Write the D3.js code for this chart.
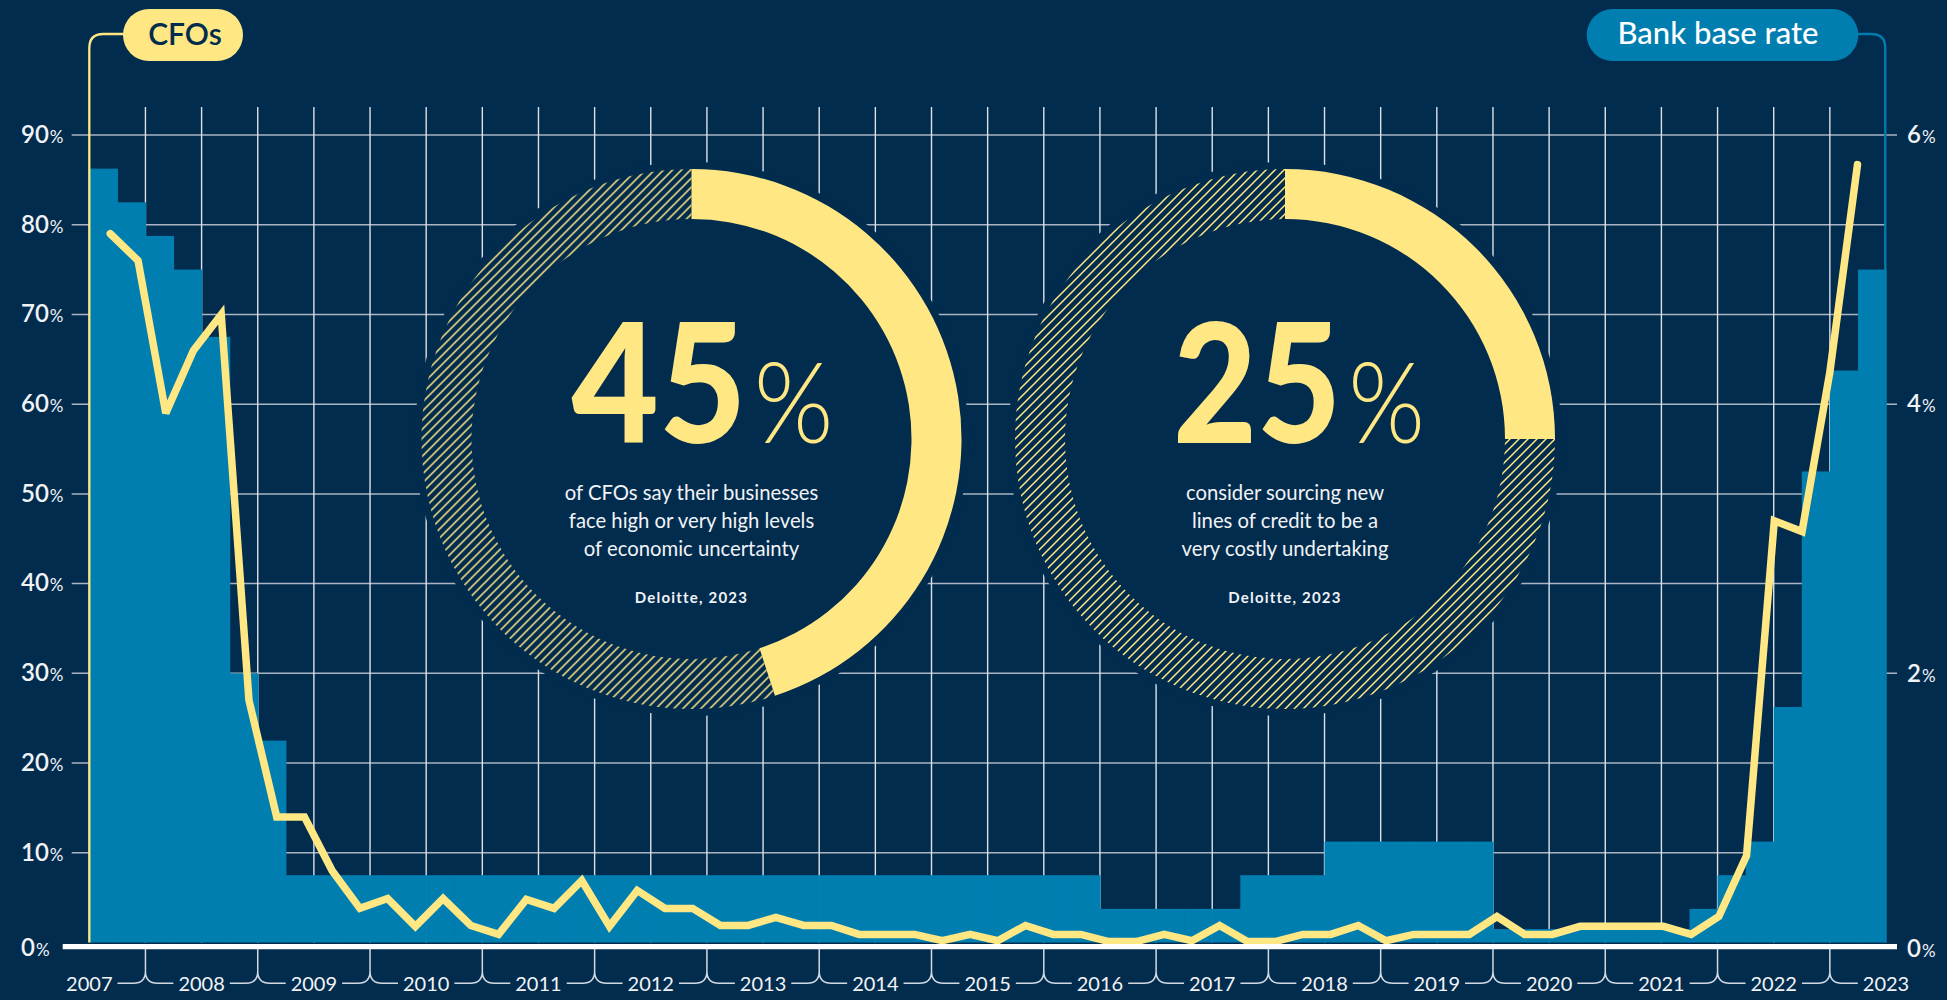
<!DOCTYPE html>
<html>
<head>
<meta charset="utf-8">
<script src="https://cdn.jsdelivr.net/npm/d3@7"></script>
<style>
  html, body { margin: 0; padding: 0; background: #022c4e; }
  svg { display: block; font-family: Lato, "Open Sans", sans-serif; }
</style>
</head>
<body>
<svg id="chart" width="1947" height="1000"></svg>
<script>
// ---- data -------------------------------------------------------------
const years = [2007, 2008, 2009, 2010, 2011, 2012, 2013, 2014, 2015,
               2016, 2017, 2018, 2019, 2020, 2021, 2022, 2023];
const quarterNames = ["Q1", "Q2", "Q3", "Q4"];
// quarterly periods from Q3 2007 to Q2 2023
const quarters = years.flatMap(y => quarterNames.map(q => `${y} ${q}`)).slice(2, 66);

// Bank of England base rate at each quarter (%), right axis
const bankRate = [
  5.75, 5.5, 5.25, 5.0, 4.5, 2.0, 1.5, 0.5,
  0.5, 0.5, 0.5, 0.5, 0.5, 0.5, 0.5, 0.5,
  0.5, 0.5, 0.5, 0.5, 0.5, 0.5, 0.5, 0.5,
  0.5, 0.5, 0.5, 0.5, 0.5, 0.5, 0.5, 0.5,
  0.5, 0.5, 0.5, 0.5, 0.25, 0.25, 0.25, 0.25,
  0.25, 0.5, 0.5, 0.5, 0.75, 0.75, 0.75, 0.75,
  0.75, 0.75, 0.1, 0.1, 0.1, 0.1, 0.1, 0.1,
  0.1, 0.25, 0.5, 0.75, 1.75, 3.5, 4.25, 5.0
];

// CFOs reporting high uncertainty (%), left axis
const cfoUncertainty = [
  79, 76, 59, 66, 70, 27, 14, 14,
  8, 3.8, 4.9, 1.8, 4.9, 1.9, 0.9, 4.8,
  3.8, 6.9, 1.8, 5.8, 3.8, 3.8, 1.9, 1.9,
  2.8, 1.9, 1.9, 0.9, 0.9, 0.9, 0.2, 0.9,
  0.2, 1.9, 0.9, 0.9, 0.1, 0.1, 0.9, 0.2,
  1.9, 0.1, 0.1, 0.9, 0.9, 1.9, 0.2, 0.9,
  0.9, 0.9, 2.9, 0.9, 0.9, 1.8, 1.8, 1.8,
  1.8, 0.9, 2.9, 9.7, 47, 45.8, 63.5, 86.7
];

const leftTicks = [0, 10, 20, 30, 40, 50, 60, 70, 80, 90];
const rightTicks = [0, 2, 4, 6];

const statValues = [45, 25];
const statLines = [
  ["of CFOs say their businesses", "face high or very high levels", "of economic uncertainty"],
  ["consider sourcing new", "lines of credit to be a", "very costly undertaking"]
];
const statSource = "Deloitte, 2023";
const seriesNames = ["CFOs", "Bank base rate"];

// ---- setup ------------------------------------------------------------
const W = 1947, H = 1000;
const C = {
  bg: "#022c4e", bar: "#007eb0", yellow: "#ffe784",
  hgrid: "#aab5c3", vgrid: "#dce1e8", text: "#f1f3f6", axis: "#d3d9e1"
};

const svg = d3.select("#chart");
svg.append("rect").attr("width", W).attr("height", H).attr("fill", C.bg);

const defs = svg.append("defs");
const hs = 9; // hatch repeat
const pat = defs.append("pattern")
  .attr("id", "hatch").attr("patternUnits", "userSpaceOnUse")
  .attr("width", hs).attr("height", hs);
pat.append("path")
  .attr("d", `M-1,1 L1,-1 M0,${hs} L${hs},0 M${hs - 1},${hs + 1} L${hs + 1},${hs - 1}`)
  .attr("stroke", C.yellow).attr("stroke-width", 1.5);

const x = d3.scaleBand().domain(quarters).range([89.3, 1886]).padding(0);
const xLine = d3.scalePoint().domain(quarters).range([110.3, 1857.5]);
const yL = d3.scaleLinear().domain([0, 90]).range([942.5, 135]);
const yR = d3.scaleLinear().domain([0, 6]).range([942.5, 135]);

const plotLeft = 71.7, plotRight = 1886, tickRight = 1897;

// ---- grid -------------------------------------------------------------
const grid = svg.append("g");
grid.selectAll("line.h")
  .data(leftTicks.filter(d => d > 0))
  .join("line")
  .attr("x1", plotLeft)
  .attr("x2", d => (d % 30 === 0 ? tickRight : plotRight))
  .attr("y1", d => yL(d)).attr("y2", d => yL(d))
  .attr("stroke", C.hgrid).attr("stroke-width", 1.5);

const halfYears = quarters.filter((q, i) => i > 0 && i % 2 === 0);
grid.selectAll("line.v")
  .data(halfYears)
  .join("line")
  .attr("x1", d => x(d)).attr("x2", d => x(d))
  .attr("y1", 107).attr("y2", yL(0))
  .attr("stroke", C.vgrid).attr("stroke-width", 1.4);

// ---- bank rate bars ---------------------------------------------------
svg.append("g").selectAll("rect")
  .data(quarters.map((q, i) => ({ q, v: bankRate[i] })))
  .join("rect")
  .attr("x", d => x(d.q))
  .attr("width", x.bandwidth() + 0.6)
  .attr("y", d => yR(d.v))
  .attr("height", d => yR(0) - yR(d.v))
  .attr("fill", C.bar);

// ---- stat rings -------------------------------------------------------
const ringCx = [691.5, 1285], ringCy = 439;
const rOuter = 270, rInner = 220;
const arc = d3.arc().innerRadius(rInner).outerRadius(rOuter);
// left offset and overall width of the big figure inside each ring
const figLeft = [-120, -112], figWidth = [262, 252];

statValues.forEach((v, k) => {
  const g = svg.append("g").attr("transform", `translate(${ringCx[k]},${ringCy})`);
  g.append("circle").attr("r", 277).attr("fill", C.bg);
  const end = 2 * Math.PI * v / 100;
  g.append("path").attr("d", arc({ startAngle: end, endAngle: 2 * Math.PI }))
    .attr("fill", "url(#hatch)");
  g.append("path").attr("d", arc({ startAngle: 0, endAngle: end }))
    .attr("fill", C.yellow);

  const fig = g.append("text")
    .attr("x", 0).attr("y", 0)
    .attr("fill", C.yellow);
  fig.append("tspan").attr("font-size", 165).attr("font-weight", 900).text(v);
  fig.append("tspan").attr("font-size", 112).attr("font-weight", 300).attr("dx", 8).text("%");
  const bb = fig.node().getBBox();
  const s = figWidth[k] / bb.width;
  fig.attr("transform", `translate(${figLeft[k] - bb.x * s},4) scale(${s},1)`);

  g.selectAll("text.sub")
    .data(statLines[k])
    .join("text")
    .attr("class", "sub")
    .attr("x", 0).attr("y", (d, i) => 60.5 + i * 28.3)
    .attr("text-anchor", "middle")
    .attr("fill", C.text).attr("font-size", 20.3)
    .text(d => d);

  g.append("text")
    .attr("x", 0).attr("y", 164)
    .attr("text-anchor", "middle")
    .attr("fill", C.text).attr("font-size", 15).attr("font-weight", 700)
    .attr("letter-spacing", 1.2)
    .text(statSource);
});

// ---- CFO line ---------------------------------------------------------
const line = d3.line().x(d => xLine(d.q)).y(d => yL(d.v));
svg.append("path")
  .datum(quarters.map((q, i) => ({ q, v: cfoUncertainty[i] })))
  .attr("d", line)
  .attr("fill", "none")
  .attr("stroke", C.yellow).attr("stroke-width", 7.5)
  .attr("stroke-linejoin", "miter").attr("stroke-miterlimit", 3)
  .attr("stroke-linecap", "round");

// ---- baseline ---------------------------------------------------------
svg.append("line")
  .attr("x1", 62.7).attr("x2", tickRight)
  .attr("y1", yL(0) + 4.2).attr("y2", yL(0) + 4.2)
  .attr("stroke", "#ffffff").attr("stroke-width", 5.3);

// ---- series axes and their labels --------------------------------------
const xStart = x.range()[0], xEnd = x.range()[1];
svg.append("path")
  .attr("d", `M${xStart},${yL(0)} V48 Q${xStart},34 ${xStart + 14},34 H124`)
  .attr("fill", "none").attr("stroke", C.yellow).attr("stroke-width", 2.3);
svg.append("path")
  .attr("d", `M${xEnd - 0.7},${yL(0)} V48 Q${xEnd - 0.7},34 ${xEnd - 14.7},34 H1857`)
  .attr("fill", "none").attr("stroke", C.bar).attr("stroke-width", 2.3);

svg.append("rect").attr("x", 123).attr("y", 9).attr("width", 120).attr("height", 52)
  .attr("rx", 26).attr("fill", C.yellow);
svg.append("text").attr("x", 185).attr("y", 44.5).attr("text-anchor", "middle")
  .attr("fill", C.bg).attr("font-size", 30).attr("font-weight", 600)
  .text(seriesNames[0]);

svg.append("rect").attr("x", 1586.7).attr("y", 9).attr("width", 271.6).attr("height", 52)
  .attr("rx", 26).attr("fill", C.bar);
svg.append("text").attr("x", 1718).attr("y", 44).attr("text-anchor", "middle")
  .attr("fill", "#ffffff").attr("font-size", 31).attr("font-weight", 500)
  .text(seriesNames[1]);

// ---- y tick labels ----------------------------------------------------
function pctLabel(sel, num) {
  sel.append("tspan").attr("font-size", 24).attr("font-weight", 600).text(num);
  sel.append("tspan").attr("font-size", 17).attr("font-weight", 400).attr("dx", 1).text("%");
}
svg.append("g").selectAll("text")
  .data(leftTicks)
  .join("text")
  .attr("x", 21)
  .attr("y", d => (d === 0 ? 956 : yL(d) + 7.8))
  .attr("fill", C.text)
  .each(function (d) { pctLabel(d3.select(this), d); });

svg.append("g").selectAll("text")
  .data(rightTicks)
  .join("text")
  .attr("x", 1907)
  .attr("y", d => (d === 0 ? 956.5 : yR(d) + 8.3))
  .attr("fill", C.text)
  .each(function (d) { pctLabel(d3.select(this), d); });

// ---- year axis with braces --------------------------------------------
const step = x.step();
const yearCenter = yr => xStart + (yr - 2007) * 4 * step;
const braceY = 983.3, braceR = 12, stemTop = yL(0) + 6.5;

const yearLabels = svg.append("g").selectAll("text")
  .data(years)
  .join("text")
  .attr("x", d => yearCenter(d))
  .attr("y", 991)
  .attr("text-anchor", "middle")
  .attr("fill", C.text).attr("font-size", 20)
  .text(d => d);

const widths = [];
yearLabels.each(function () { widths.push(this.getComputedTextLength()); });

const braceYears = years.slice(1);
const braces = svg.append("g")
  .attr("fill", "none").attr("stroke", C.axis).attr("stroke-width", 1.5);
braceYears.forEach((yr, k) => {
  const bx = x(`${yr} Q1`);
  const leftEdge = yearCenter(years[k]) + widths[k] / 2 + 5;
  const rightEdge = yearCenter(years[k + 1]) - widths[k + 1] / 2 - 5;
  braces.append("path").attr("d",
    `M${bx},${stemTop} V${braceY - braceR} ` +
    `M${leftEdge},${braceY} H${bx - braceR} Q${bx},${braceY} ${bx},${braceY - braceR} ` +
    `M${rightEdge},${braceY} H${bx + braceR} Q${bx},${braceY} ${bx},${braceY - braceR}`);
});
</script>
</body>
</html>
